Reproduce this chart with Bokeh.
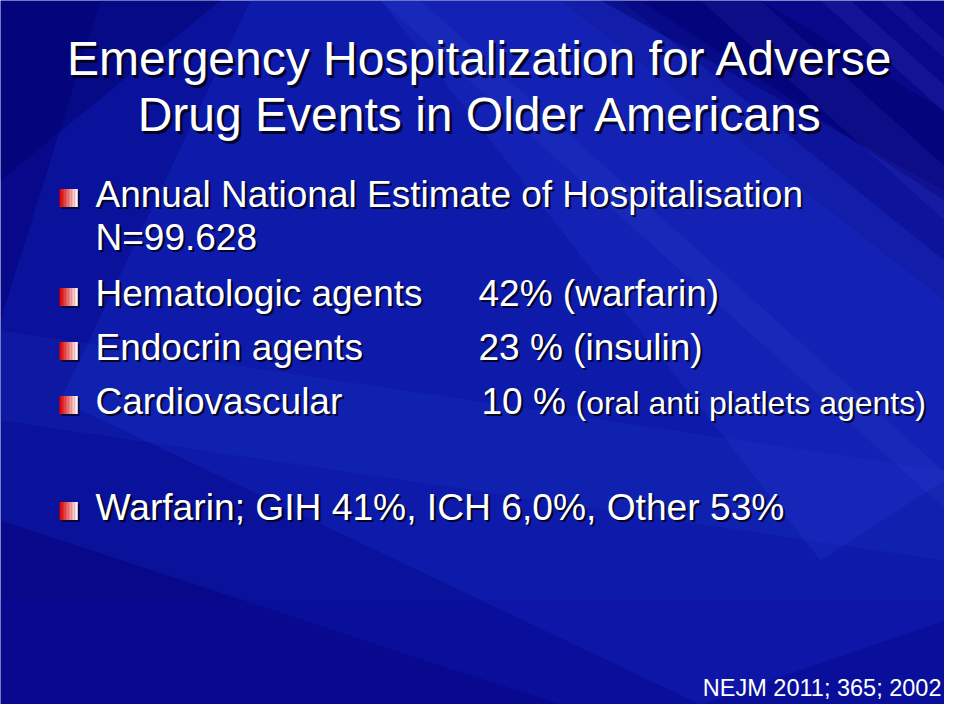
from bokeh.plotting import figure
from bokeh.models import Range1d
from bokeh.core.properties import value
from bokeh.embed import file_html
from bokeh.resources import INLINE

# ---- slide content ----
title_lines = ["Emergency Hospitalization for Adverse", "Drug Events in Older Americans"]
bullet_items = ["Annual National Estimate of Hospitalisation",
                "Hematologic agents",
                "Endocrin agents",
                "Cardiovascular",
                "Warfarin; GIH 41%, ICH 6,0%, Other 53%"]
continuation = "N=99.628"
right_main = ["42% (warfarin)", "23 % (insulin)", "10 %"]
right_small = "(oral anti platlets agents)"
source_note = "NEJM 2011; 365; 2002"

# ---- layout (pixel units, y downward) ----
W, H = 944, 704
FONT = "Liberation Sans"
K = 0.39  # baseline correction factor

p = figure(width=W, height=H, output_backend="svg", toolbar_location=None,
           x_range=Range1d(0, W), y_range=Range1d(H, 0),
           min_border=0, background_fill_color="#08088a", border_fill_color="#08088a")
p.axis.visible = False
p.grid.visible = False
p.outline_line_color = None

# background shading (soft overlapping layers)
layers = [
    ([100, 560, 944, 944, 560, 0, 0], [0, 0, 300, 704, 704, 520, 320], "#1228c0", 0.30),
    ([250, 620, 944, 944, 700, 60], [0, 0, 260, 620, 704, 400], "#1a38d8", 0.25),
    ([380, 640, 944, 944, 820], [0, 0, 200, 480, 560], "#2a48e8", 0.18),
    ([0, 944, 944, 0], [330, 470, 560, 420], "#2040d8", 0.15),
    ([600, 760, 944, 944], [0, 0, 110, 190], "#00006a", 0.40),
    ([0, 220, 0], [0, 0, 180], "#00006a", 0.40),
    ([0, 944, 944, 0], [600, 600, 704, 704], "#0a0aa0", 0.25),
]
for xs, ys, c, a in layers:
    p.patch(xs, ys, fill_color=c, fill_alpha=a, line_color=None)
for x0, x1, a in [(700, 760, 0.08), (820, 850, 0.10), (380, 420, 0.06), (880, 900, 0.08)]:
    p.patch([x0, x1, 944, 944], [0, 0, (944 - x1) * 0.9, (944 - x0) * 0.9],
            fill_color="#7080ff", fill_alpha=a, line_color=None)


def shadow_text(x, y, txt, size, align="left", shadow=2.2, color="white", sh=True):
    fs = value(f"{size:.1f}px")
    yy = y - K * size
    if sh:
        p.text(x=[x + shadow], y=[yy + shadow], text=[txt], text_font=value(FONT),
               text_font_size=fs, text_color="black", text_alpha=0.75,
               text_align=align, text_baseline="alphabetic")
    p.text(x=[x], y=[yy], text=[txt], text_font=value(FONT),
           text_font_size=fs, text_color=color,
           text_align=align, text_baseline="alphabetic")


def bullet(xl, yc, w=18, h=18):
    p.quad(left=[xl + 2], right=[xl + w + 2], top=[yc - h / 2 + 2],
           bottom=[yc + h / 2 + 2], fill_color="black", fill_alpha=0.6, line_color=None)
    n = 12
    r0, g0, b0 = 0xe0, 0x00, 0x00
    r1, g1, b1 = 0xff, 0xf2, 0xf2
    for i in range(n):
        t = i / (n - 1)
        col = "#%02x%02x%02x" % (int(r0 + (r1 - r0) * t), int(g0 + (g1 - g0) * t), int(b0 + (b1 - b0) * t))
        p.quad(left=[xl + w * i / n], right=[xl + w * (i + 1) / n + 0.3],
               top=[yc - h / 2], bottom=[yc + h / 2], fill_color=col, line_color=None)


# title
title_base = [77, 133]
for txt, yb in zip(title_lines, title_base):
    shadow_text(480, yb, txt, 48, align="center", shadow=2.6)

# bullets
text_x = 95
bullet_x = 59
item_base = [208, 307, 361, 415, 521]
item_size = [37, 37, 37, 37, 37.2]
for txt, yb, fs in zip(bullet_items, item_base, item_size):
    bullet(bullet_x, yb - 10.5)
    shadow_text(text_x, yb, txt, fs)
shadow_text(text_x, 251, continuation, 37)

# right column
right_x = [478, 478, 481]
for txt, xr, yb in zip(right_main, right_x, item_base[1:4]):
    shadow_text(xr, yb, txt, 37)
shadow_text(575, item_base[3], right_small, 32)

# source
shadow_text(941, 697, source_note, 23.5, align="right", sh=False)

open("out.html", "w").write(file_html(p, INLINE))
